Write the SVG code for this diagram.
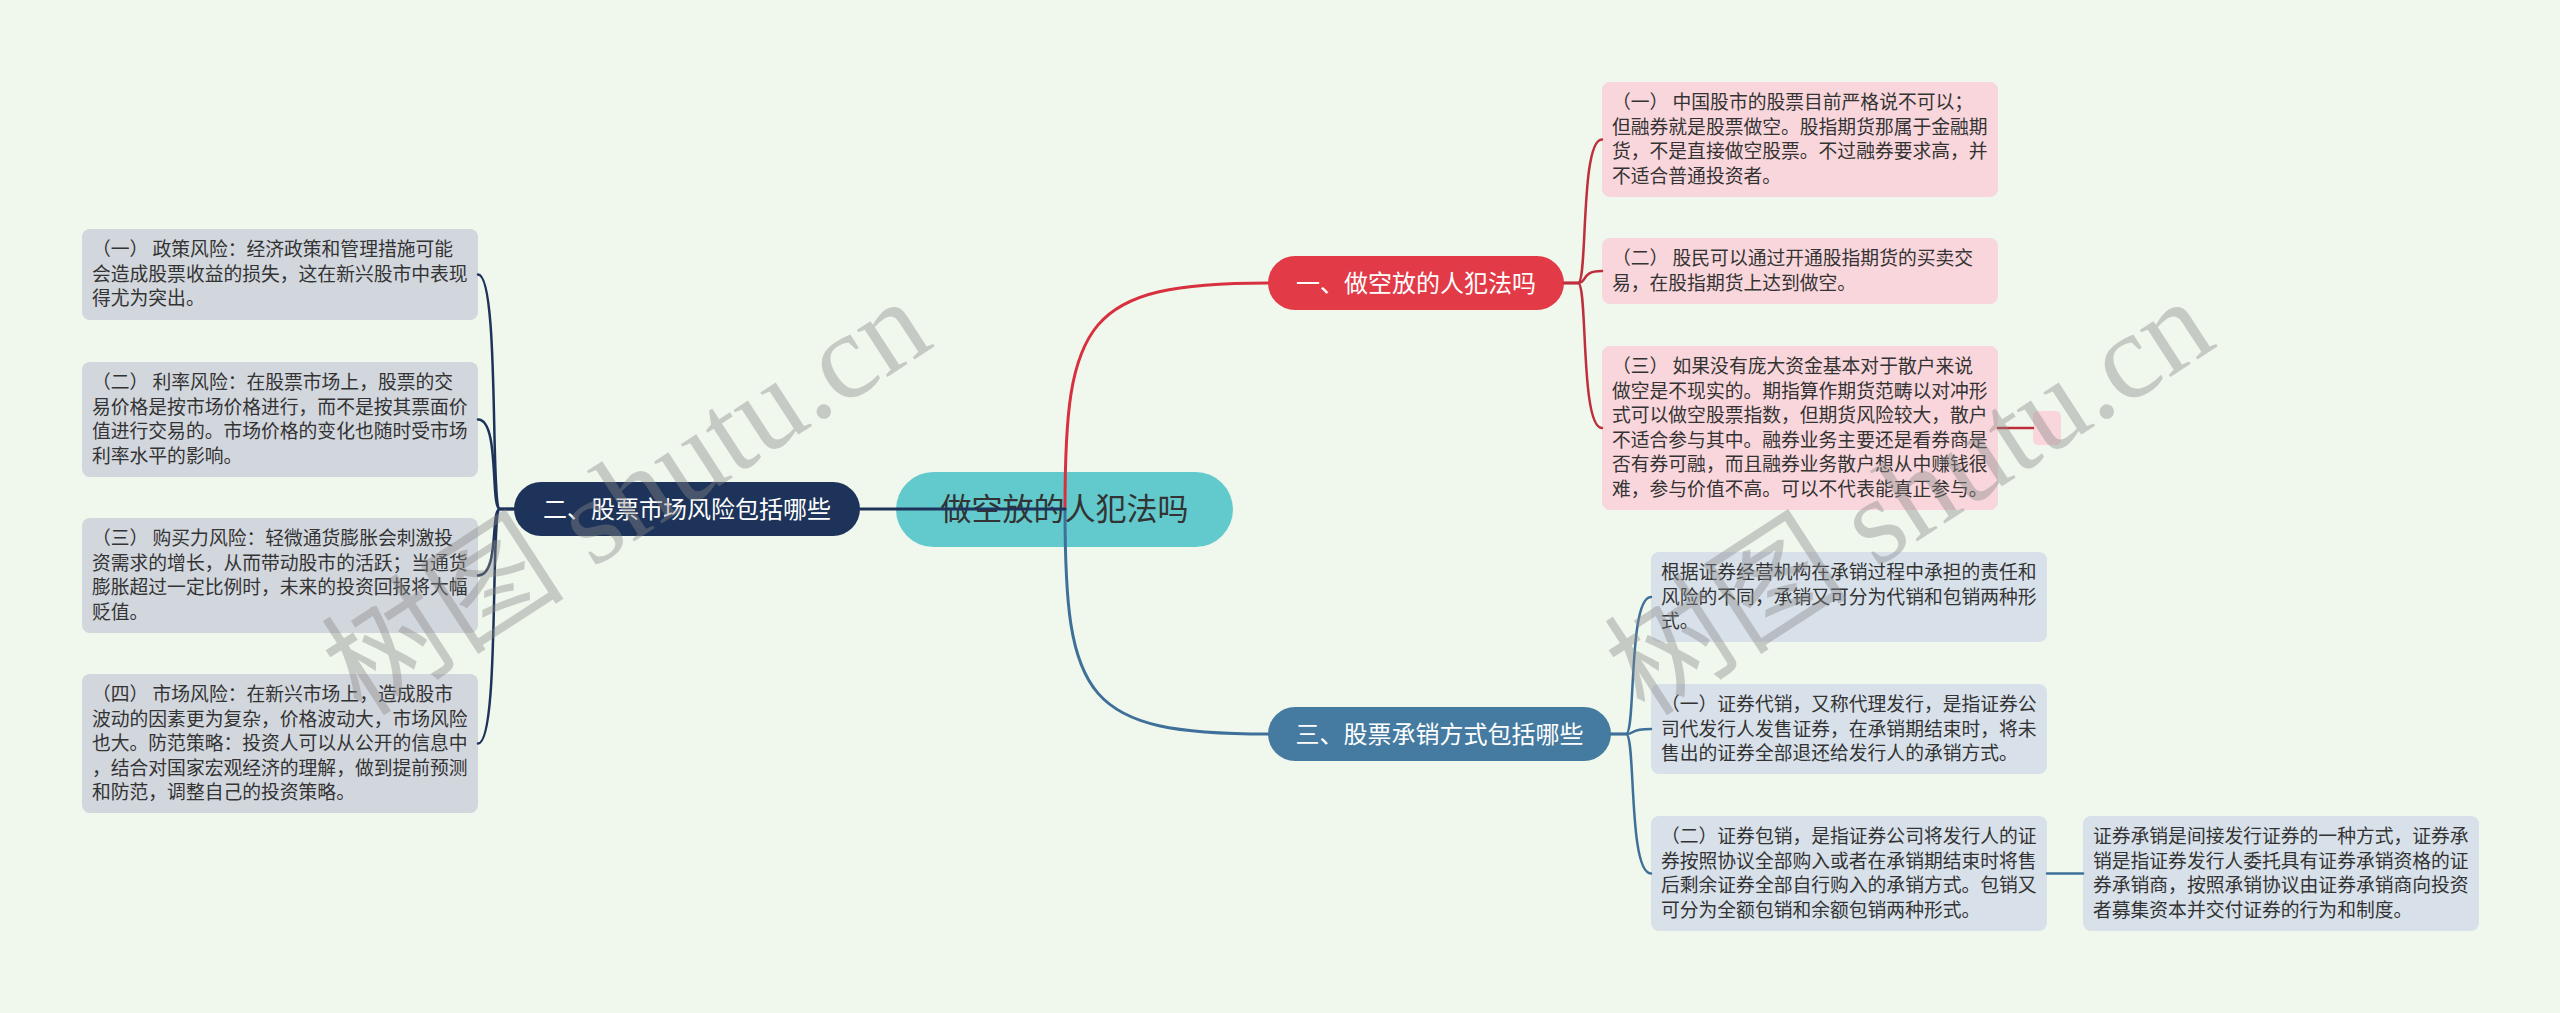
<svg xmlns="http://www.w3.org/2000/svg" width="2560" height="1013" viewBox="0 0 2560 1013">
<style>
.bg{fill:#F0F8EE}
.leaf text,.leaf{font-family:"Noto Sans CJK SC","Noto Sans",sans-serif;font-size:18.8px;fill:#333333}
.gray{fill:#D2D6DD}
.pink{fill:#F9D6DB}
.lblue{fill:#D8E1EA}
.br{font-family:"Noto Sans CJK SC","Noto Sans",sans-serif;font-size:24px;fill:#FFFFFF;text-anchor:middle}
.ct{font-family:"Noto Sans CJK SC","Noto Sans",sans-serif;font-size:31px;fill:#333333;text-anchor:middle}
.c{fill:none;stroke-linecap:round}
.wm{font-family:"Liberation Serif","Noto Sans CJK SC",serif;font-size:122px;fill:#888888;opacity:0.4}
</style>
<rect class="bg" x="0" y="0" width="2560" height="1013"/>

<g id="central">
<rect x="896" y="472" width="337" height="75" rx="37.5" fill="#62C9CD"/>
<text class="ct" x="1064.5" y="520">做空放的人犯法吗</text>
</g>

<g id="b1">
<rect x="1268" y="256" width="296" height="54" rx="27" fill="#E23A47"/>
<text class="br" x="1416" y="292">一、做空放的人犯法吗</text>
</g>
<g id="b2">
<rect x="514" y="482" width="346" height="54" rx="27" fill="#1E3359"/>
<text class="br" x="687" y="518">二、股票市场风险包括哪些</text>
</g>
<g id="b3">
<rect x="1268" y="707" width="343" height="54" rx="27" fill="#457BA0"/>
<text class="br" x="1439.5" y="743">三、股票承销方式包括哪些</text>
</g>

<g id="l1" class="leaf">
<rect class="gray" x="82" y="229" width="396" height="91" rx="8"/>
<text><tspan x="92" y="256">（一） 政策风险：经济政策和管理措施可能</tspan><tspan x="92" y="280.5">会造成股票收益的损失，这在新兴股市中表现</tspan><tspan x="92" y="305">得尤为突出。</tspan></text>
</g>
<g id="l2" class="leaf">
<rect class="gray" x="82" y="362" width="396" height="115" rx="8"/>
<text><tspan x="92" y="389">（二） 利率风险：在股票市场上，股票的交</tspan><tspan x="92" y="413.5">易价格是按市场价格进行，而不是按其票面价</tspan><tspan x="92" y="438">值进行交易的。市场价格的变化也随时受市场</tspan><tspan x="92" y="462.5">利率水平的影响。</tspan></text>
</g>
<g id="l3" class="leaf">
<rect class="gray" x="82" y="518" width="396" height="115" rx="8"/>
<text><tspan x="92" y="545">（三） 购买力风险：轻微通货膨胀会刺激投</tspan><tspan x="92" y="569.5">资需求的增长，从而带动股市的活跃；当通货</tspan><tspan x="92" y="594">膨胀超过一定比例时，未来的投资回报将大幅</tspan><tspan x="92" y="618.5">贬值。</tspan></text>
</g>
<g id="l4" class="leaf">
<rect class="gray" x="82" y="674" width="396" height="139" rx="8"/>
<text><tspan x="92" y="701">（四） 市场风险：在新兴市场上，造成股市</tspan><tspan x="92" y="725.5">波动的因素更为复杂，价格波动大，市场风险</tspan><tspan x="92" y="750">也大。防范策略：投资人可以从公开的信息中</tspan><tspan x="92" y="774.5">，结合对国家宏观经济的理解，做到提前预测</tspan><tspan x="92" y="799">和防范，调整自己的投资策略。</tspan></text>
</g>

<g id="r1" class="leaf">
<rect class="pink" x="1602" y="82" width="396" height="115" rx="8"/>
<text><tspan x="1612" y="109">（一） 中国股市的股票目前严格说不可以；</tspan><tspan x="1612" y="133.5">但融券就是股票做空。股指期货那属于金融期</tspan><tspan x="1612" y="158">货，不是直接做空股票。不过融券要求高，并</tspan><tspan x="1612" y="182.5">不适合普通投资者。</tspan></text>
</g>
<g id="r2" class="leaf">
<rect class="pink" x="1602" y="238" width="396" height="66" rx="8"/>
<text><tspan x="1612" y="265">（二） 股民可以通过开通股指期货的买卖交</tspan><tspan x="1612" y="289.5">易，在股指期货上达到做空。</tspan></text>
</g>
<g id="r3" class="leaf">
<rect class="pink" x="1602" y="346" width="396" height="164" rx="8"/>
<text><tspan x="1612" y="373">（三） 如果没有庞大资金基本对于散户来说</tspan><tspan x="1612" y="397.5">做空是不现实的。期指算作期货范畴以对冲形</tspan><tspan x="1612" y="422">式可以做空股票指数，但期货风险较大，散户</tspan><tspan x="1612" y="446.5">不适合参与其中。融券业务主要还是看券商是</tspan><tspan x="1612" y="471">否有券可融，而且融券业务散户想从中赚钱很</tspan><tspan x="1612" y="495.5">难，参与价值不高。可以不代表能真正参与。</tspan></text>
</g>
<g id="r3a">
<rect class="pink" x="2033" y="411" width="28" height="34" rx="5"/>
</g>

<g id="q1" class="leaf">
<rect class="lblue" x="1651" y="552" width="396" height="90" rx="8"/>
<text><tspan x="1661" y="579">根据证券经营机构在承销过程中承担的责任和</tspan><tspan x="1661" y="603.5">风险的不同，承销又可分为代销和包销两种形</tspan><tspan x="1661" y="628">式。</tspan></text>
</g>
<g id="q2" class="leaf">
<rect class="lblue" x="1651" y="684" width="396" height="90" rx="8"/>
<text><tspan x="1661" y="711">（一）证券代销，又称代理发行，是指证券公</tspan><tspan x="1661" y="735.5">司代发行人发售证券，在承销期结束时，将未</tspan><tspan x="1661" y="760">售出的证券全部退还给发行人的承销方式。</tspan></text>
</g>
<g id="q3" class="leaf">
<rect class="lblue" x="1651" y="816" width="396" height="115" rx="8"/>
<text><tspan x="1661" y="843">（二）证券包销，是指证券公司将发行人的证</tspan><tspan x="1661" y="867.5">券按照协议全部购入或者在承销期结束时将售</tspan><tspan x="1661" y="892">后剩余证券全部自行购入的承销方式。包销又</tspan><tspan x="1661" y="916.5">可分为全额包销和余额包销两种形式。</tspan></text>
</g>
<g id="q4" class="leaf">
<rect class="lblue" x="2083" y="816" width="396" height="115" rx="8"/>
<text><tspan x="2093" y="843">证券承销是间接发行证券的一种方式，证券承</tspan><tspan x="2093" y="867.5">销是指证券发行人委托具有证券承销资格的证</tspan><tspan x="2093" y="892">券承销商，按照承销协议由证券承销商向投资</tspan><tspan x="2093" y="916.5">者募集资本并交付证券的行为和制度。</tspan></text>
</g>

<g id="connectors">
<path class="c" stroke="#D8303E" stroke-width="3" d="M1065 509 C1065 320 1085 283 1268 283"/>
<path class="c" stroke="#3E7099" stroke-width="3" d="M1065 509 C1065 700 1085 734 1268 734"/>
<path class="c" stroke="#1E3359" stroke-width="3" d="M1065 509 L860 509"/>

<g stroke="#1E3359" stroke-width="2.5" class="c">
<path class="c" d="M514 509 L500 509 C490 509 500 274.5 478 274.5"/>
<path class="c" d="M514 509 L500 509 C490 509 500 419.5 478 419.5"/>
<path class="c" d="M514 509 L500 509 C490 509 500 575.5 478 575.5"/>
<path class="c" d="M514 509 L500 509 C490 509 500 743.5 478 743.5"/>
</g>
<g stroke="#BE2F3C" stroke-width="2.5" class="c">
<path class="c" d="M1564 283 L1578 283 C1588 283 1580 139.5 1602 139.5"/>
<path class="c" d="M1564 283 L1578 283 C1588 283 1580 271 1602 271"/>
<path class="c" d="M1564 283 L1578 283 C1588 283 1580 428 1602 428"/>
<path class="c" d="M1998 428 L2033 428"/>
</g>
<g stroke="#3E7099" stroke-width="2.5" class="c">
<path class="c" d="M1611 734 L1626 734 C1636 734 1628 597 1651 597"/>
<path class="c" d="M1611 734 L1626 734 C1636 734 1628 729 1651 729"/>
<path class="c" d="M1611 734 L1626 734 C1636 734 1628 873.5 1651 873.5"/>
<path class="c" d="M2047 873.5 L2083 873.5"/>
</g>
</g>

<g id="watermarks">
<text class="wm" transform="translate(362 718) rotate(-33)">树图 shutu.cn</text>
<text class="wm" transform="translate(1645 718) rotate(-33)">树图 shutu.cn</text>
</g>
</svg>
